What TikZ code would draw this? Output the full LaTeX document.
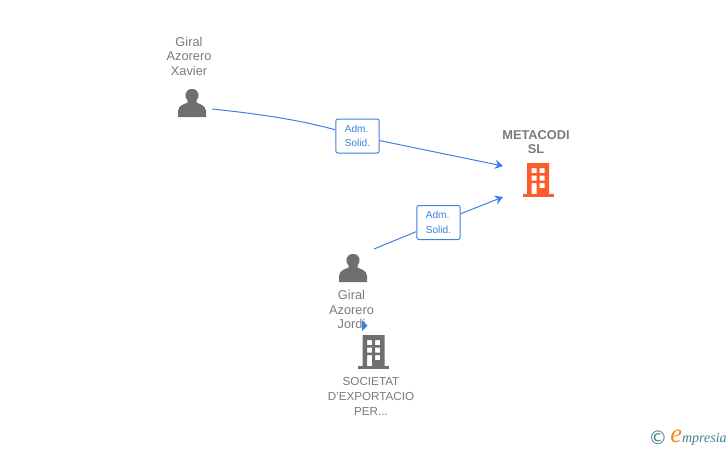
\documentclass[tikz,border=0pt]{standalone}
\usepackage{fontspec}
\setmainfont{Liberation Sans}
\newfontfamily\logofont{Liberation Serif}
\newfontfamily\copyfont{DejaVu Sans}
\usepackage{tikz}
\usetikzlibrary{arrows.meta,calc}
\definecolor{linkblue}{HTML}{3B82E0}
\definecolor{iconred}{HTML}{FF5A2B}
\definecolor{icongray}{HTML}{6F6F6F}
\definecolor{textgray}{HTML}{7A7A7A}
\definecolor{logoteal}{HTML}{3F7F96}
\definecolor{logoorange}{HTML}{F08A1D}
\tikzset{
  pics/personicon/.style = {code = {
    \fill[icongray] (0,-14) .. controls (-7.5,-14) and (-8,-6) .. (-4.5,-2.5) -- (-4.5,-0.5)
      .. controls (-8,1.5) and (-13.5,2) .. (-14,8) -- (-14,14) -- (14,14) -- (14,8)
      .. controls (13.5,2) and (8,1.5) .. (4.5,-0.5) -- (4.5,-2.5)
      .. controls (8,-6) and (7.5,-14) .. (0,-14) -- cycle;
  }},
  pics/buildingicon/.style = {code = {
    \fill[#1, even odd rule] (-11,-17) rectangle (11,15)
      (-6.5,-12) rectangle (-1.5,-7) (1.5,-12) rectangle (6.5,-7)
      (-6.5,-4.5) rectangle (-1.5,0.5) (1.5,-4.5) rectangle (6.5,0.5)
      (-6.5,3) rectangle (-1.5,15) (1.5,3) rectangle (6.5,8);
    \fill[#1] (-15.5,13.5) rectangle (15.5,16.5);
  }}
}
\begin{document}
\begin{tikzpicture}[
  x=0.75pt, y=-0.75pt,
  every node/.style = {align=center, inner sep=0pt},
  personlabel/.style = {font=\fontsize{9.6}{10.9}\selectfont, text=textgray},
  rolelabel/.style = {draw=linkblue, line width=0.75pt, rounded corners=1.5pt, fill=white, align=left,
    text=linkblue, font=\fontsize{7.6}{11}\selectfont, minimum width=32.5pt, minimum height=25.5pt},
  link/.style = {draw=linkblue, line width=0.75pt},
  linkarrow/.style = {link, -{Stealth[length=6pt, width=7pt]}}
]
  \useasboundingbox (0,0) rectangle (728,450);

  \node[personlabel] (xavier) at (189,56) {Giral\\Azorero\\Xavier};
  \pic at (192,103) {personicon};
  \coordinate (xavierout) at (212,109);

  \node[personlabel, font=\fontsize{9.6}{10.9}\selectfont\bfseries] (metacodi) at (536,142) {METACODI\\SL};
  \pic at (538,180) {buildingicon=iconred};
  \coordinate (metacoditop) at (503,166);
  \coordinate (metacodibot) at (503,197);

  \node[rolelabel] (admone) at (357.5,136) {Adm.\\Solid.};
  \node[rolelabel] (admtwo) at (438.5,222.5) {Adm.\\Solid.};

  \pic at (353,268) {personicon};
  \coordinate (jordiout) at (374,249);
  \node[personlabel] (jordi) at (351.5,309.5) {Giral\\Azorero\\Jordi};
  \fill[linkblue] (362,320) -- (367.5,325.5) -- (362,331) -- cycle;

  \pic at (373.5,352) {buildingicon=icongray};
  \node[personlabel, font=\fontsize{8.75}{11.25}\selectfont] (societat) at (371,396) {SOCIETAT\\D'EXPORTACIO\\PER...};

  % connectors
  \draw[link] (xavierout) .. controls (260,114) and (300,120) .. (admone);
  \draw[linkarrow] (admone) -- (metacoditop);
  \draw[link] (jordiout) -- (admtwo);
  \draw[linkarrow] (admtwo) -- (metacodibot);

  % logo
  \node[text=logoteal, font=\copyfont\fontsize{14}{14}\selectfont] (copyr) at (658,438) {©};
  \node[anchor=west, text=logoteal, font=\logofont\itshape\fontsize{10.5}{12}\selectfont] (logo) at (670,438)
    {\textcolor{logoorange}{\fontsize{20}{20}\selectfont e}mpresia};
\end{tikzpicture}
\end{document}
